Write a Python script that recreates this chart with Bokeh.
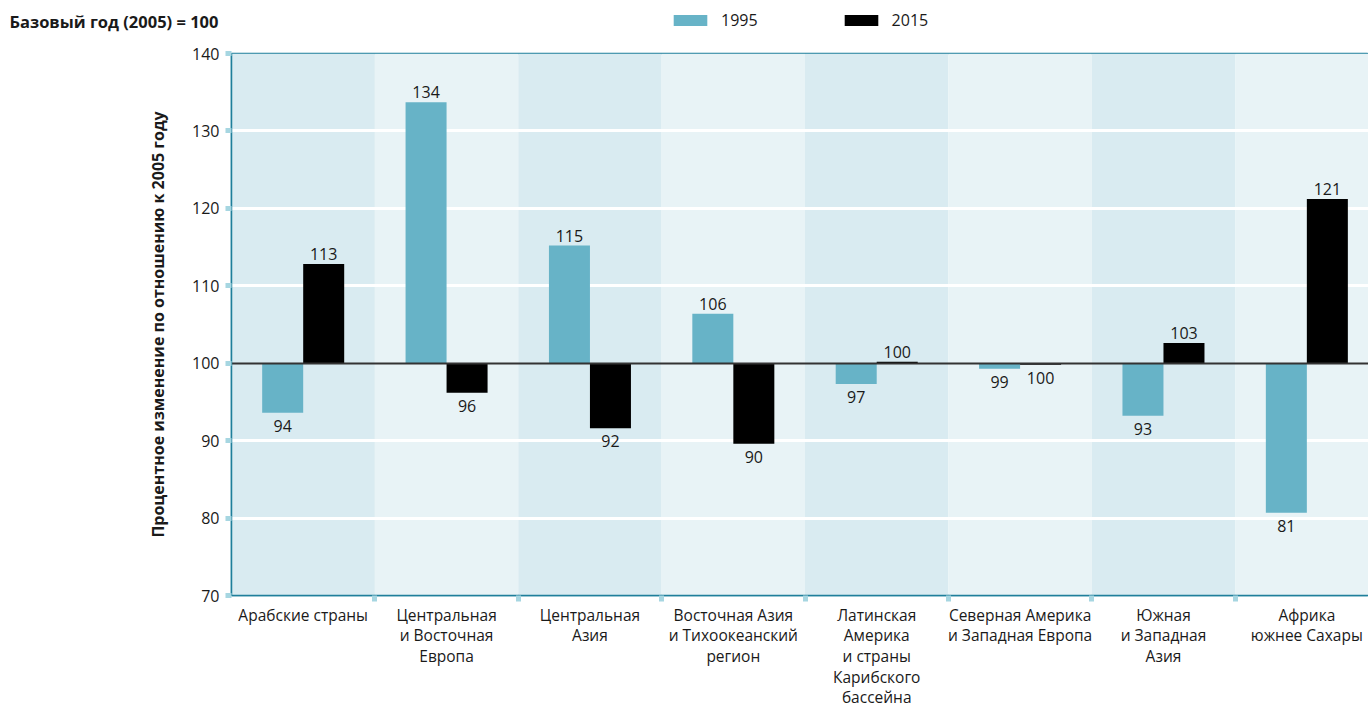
from bokeh.plotting import figure
from bokeh.layouts import column
from bokeh.models import Range1d, FixedTicker, Legend, LegendItem, ColumnDataSource
from bokeh.core.properties import value
from bokeh.embed import file_html
from bokeh.resources import INLINE

# ---------------- data ----------------
categories = [
    "Арабские страны",
    "Центральная\nи Восточная\nЕвропа",
    "Центральная\nАзия",
    "Восточная Азия\nи Тихоокеанский\nрегион",
    "Латинская\nАмерика\nи страны\nКарибского\nбассейна",
    "Северная Америка\nи Западная Европа",
    "Южная\nи Западная\nАзия",
    "Африка\nюжнее Сахары",
]
values_1995 = [93.6, 133.7, 115.2, 106.4, 97.3, 99.3, 93.2, 80.7]
values_2015 = [112.8, 96.2, 91.6, 89.6, 100.2, 99.8, 102.6, 121.2]
labels_1995 = ["94", "134", "115", "106", "97", "99", "93", "81"]
labels_2015 = ["113", "96", "92", "90", "100", "100", "103", "121"]
y_ticks = [70, 80, 90, 100, 110, 120, 130, 140]
series_names = ["1995", "2015"]
header_text = "Базовый год (2005) = 100"

# ---------------- style ----------------
FONT = "Open Sans"
TEAL = "#67b3c7"
BLACK = "#000000"
BAND_DARK = "#d9ebf1"
BAND_LIGHT = "#e8f3f6"
AXIS_TEAL = "#1f7f9b"
TICK_BLUE = "#a6d6e1"
TEXT = "#1a1a1a"

W, H = 1368, 711
LEFT = 231
HEADER_H = 41
MAIN_TOP = 12
BASE = 100
n = len(categories)
x_max = 7.93
bar_w = 0.286

# ---------------- header (title + legend) ----------------
hdr = figure(width=W, height=HEADER_H, output_backend="svg", toolbar_location=None,
             x_range=Range1d(0, W - LEFT), y_range=Range1d(0, HEADER_H),
             min_border_left=LEFT, min_border_right=0, min_border_top=0, min_border_bottom=0,
             x_axis_location=None,
             background_fill_color="white", border_fill_color="white")
hdr.outline_line_color = None
hdr.grid.visible = False
# header title shown as the single label of the header's left axis
title_pos = HEADER_H - 21
hy = hdr.yaxis[0]
hy.ticker = FixedTicker(ticks=[title_pos])
hy.major_label_overrides = {title_pos: header_text}
hy.axis_line_color = None
hy.major_tick_line_color = None
hy.minor_tick_line_color = None
hy.major_tick_out = 0
hy.major_tick_in = 0
hy.major_label_standoff = 13
hy.major_label_text_font = FONT
hy.major_label_text_font_size = "16.5px"
hy.major_label_text_font_style = "bold"
hy.major_label_text_color = TEXT

# legend swatches (renderers placed outside the header's visible range)
h1 = hdr.vbar(x=[-1000], bottom=[-1000], top=[-999], width=1, fill_color=TEAL, line_color=None)
h2 = hdr.vbar(x=[-1000], bottom=[-1000], top=[-999], width=1, fill_color=BLACK, line_color=None)
legend = Legend(items=[LegendItem(label=series_names[0], renderers=[h1]),
                       LegendItem(label=series_names[1], renderers=[h2])],
                orientation="horizontal", location=(669 - LEFT, HEADER_H - 31),
                glyph_width=42, glyph_height=14, label_standoff=10, spacing=82,
                padding=0, margin=0, border_line_color=None,
                background_fill_alpha=0, label_text_font=FONT,
                label_text_font_size="16px", label_text_color=TEXT,
                label_height=14)
hdr.add_layout(legend, "center")

# ---------------- main chart ----------------
p = figure(width=W, height=H - HEADER_H, output_backend="svg", toolbar_location=None,
           x_range=Range1d(0, x_max), y_range=Range1d(70, 140),
           min_border_left=LEFT, min_border_right=0, min_border_top=MAIN_TOP,
           min_border_bottom=115, background_fill_color="white",
           border_fill_color="white")
p.outline_line_color = AXIS_TEAL
p.outline_line_width = 1.5
p.xgrid.visible = False
p.ygrid.visible = False

band_colors = [BAND_DARK if i % 2 == 0 else BAND_LIGHT for i in range(n)]
p.quad(left=list(range(n)), right=[i + 1 for i in range(n)], bottom=70, top=140,
       fill_color=band_colors, line_color=None)

p.hspan(y=[t for t in y_ticks if t not in (70, 100, 140)], line_color="white", line_width=3)

centers = [i + 0.5 for i in range(n)]
x1 = [c - bar_w / 2 for c in centers]
x2 = [c + bar_w / 2 for c in centers]

p.vbar(x=x1, width=bar_w, bottom=BASE, top=values_1995, fill_color=TEAL, line_color=None)
p.vbar(x=x2, width=bar_w, bottom=BASE, top=values_2015, fill_color=BLACK, line_color=None)

p.hspan(y=[BASE], line_color="#333333", line_width=2)

def add_labels(xs, vals, labs):
    up = [v >= BASE for v in vals]
    src_up = ColumnDataSource(dict(x=[x for x, u in zip(xs, up) if u],
                                   y=[v for v, u in zip(vals, up) if u],
                                   t=[l for l, u in zip(labs, up) if u]))
    src_dn = ColumnDataSource(dict(x=[x for x, u in zip(xs, up) if not u],
                                   y=[v for v, u in zip(vals, up) if not u],
                                   t=[l for l, u in zip(labs, up) if not u]))
    p.text(x="x", y="y", text="t", source=src_up, text_align="center",
           text_baseline="bottom", y_offset=-4, text_font=value(FONT),
           text_font_size="16px", text_color=TEXT)
    p.text(x="x", y="y", text="t", source=src_dn, text_align="center",
           text_baseline="top", y_offset=7, text_font=value(FONT),
           text_font_size="16px", text_color=TEXT)

add_labels(x1, values_1995, labels_1995)
add_labels(x2, values_2015, labels_2015)

xa = p.xaxis[0]
xa.ticker = FixedTicker(ticks=centers, minor_ticks=list(range(1, n)))
xa.major_label_overrides = {c: cat for c, cat in zip(centers, categories)}
xa.major_tick_line_color = None
xa.major_tick_in = 0
xa.major_tick_out = 0
xa.minor_tick_line_color = TICK_BLUE
xa.minor_tick_line_width = 5
xa.minor_tick_in = 0
xa.minor_tick_out = 6
xa.axis_line_color = AXIS_TEAL
xa.axis_line_width = 1.5
xa.major_label_text_font = FONT
xa.major_label_text_font_size = "15.5px"
xa.major_label_text_color = TEXT
xa.major_label_standoff = 2
xa.major_label_text_line_height = 0.94

ya = p.yaxis[0]
ya.ticker = FixedTicker(ticks=y_ticks)
ya.axis_line_color = AXIS_TEAL
ya.axis_line_width = 1.5
ya.major_tick_line_color = TICK_BLUE
ya.major_tick_line_width = 5
ya.major_tick_in = 0
ya.major_tick_out = 6
ya.minor_tick_line_color = None
ya.major_label_text_font = FONT
ya.major_label_text_font_size = "16px"
ya.major_label_text_color = TEXT
ya.major_label_standoff = 6
ya.axis_label = "Процентное изменение по отношению к 2005 году"
ya.axis_label_text_font = FONT
ya.axis_label_text_font_size = "16px"
ya.axis_label_text_font_style = "bold"
ya.axis_label_text_color = TEXT
ya.axis_label_standoff = 20

layout = column(hdr, p, spacing=0)
open("out.html", "w").write(file_html(layout, INLINE))
